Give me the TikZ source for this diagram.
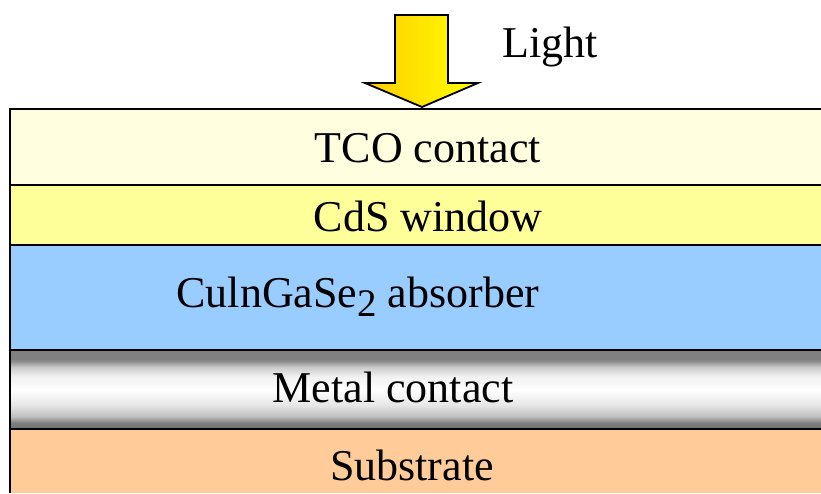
\documentclass[tikz,border=0pt]{standalone}
\usepackage{fontspec}
\setmainfont{Liberation Serif}
\definecolor{tcocol}{HTML}{FFFFE0}
\definecolor{cdscol}{HTML}{FFFF99}
\definecolor{cigscol}{HTML}{99CCFF}
\definecolor{subcol}{HTML}{FFCC99}
\definecolor{arrowL}{HTML}{FFCC00}
\definecolor{arrowR}{HTML}{FFFF00}
\pgfdeclareverticalshading{metalshade}{100bp}{%
  color(0bp)=(black!56);
  color(25bp)=(black!56);
  color(29bp)=(black!50);
  color(33bp)=(black!25);
  color(40bp)=(black!10);
  color(49.7bp)=(white);
  color(58bp)=(black!5);
  color(64bp)=(black!20);
  color(68bp)=(black!45);
  color(69.5bp)=(black!50);
  color(75bp)=(black!50);
  color(100bp)=(black!50)}
\tikzset{
  layertext/.style={font=\fontsize{44}{50}\selectfont, inner sep=0pt, anchor=center},
  border/.style={line width=2.5pt, black}
}
\begin{document}
\begin{tikzpicture}[x=1pt,y=-1pt]
\useasboundingbox (0,0) rectangle (821,493);
\fill[white] (0,0) rectangle (821,493);
% layers
\fill[tcocol] (10,109) rectangle (821,185);
\fill[cdscol] (10,185) rectangle (821,245);
\fill[cigscol] (10,245) rectangle (821,350);
\shade[shading=metalshade] (10,350) rectangle (821,429);
\fill[subcol] (10,429) rectangle (821,493);
% borders
\draw[border] (821,109) -- (10,109) -- (10,493);
\draw[border] (10,185) -- (821,185);
\draw[border] (10,245) -- (821,245);
\draw[border] (10,350) -- (821,350);
\draw[border] (10,429) -- (821,429);
% arrow
\shade[left color=arrowL, right color=arrowR, draw=black, line width=1.8pt, line join=miter]
  (395,15) -- (448,15) -- (448,83) -- (478,83) -- (422,107) -- (365,83) -- (395,83) -- cycle;
% texts
\node[layertext] (light) at (550,47) {Light};
\node[layertext] (tco) at (428,148) {TCO contact};
\node[layertext] (cds) at (428,216) {CdS window};
\node[layertext] (cigs) at (358,297) {CulnGaSe\raisebox{-9pt}{\fontsize{39}{40}\selectfont 2} absorber};
\node[layertext] (metal) at (393,387) {Metal contact};
\node[layertext] (sub) at (412,465) {Substrate};
\end{tikzpicture}
\end{document}
